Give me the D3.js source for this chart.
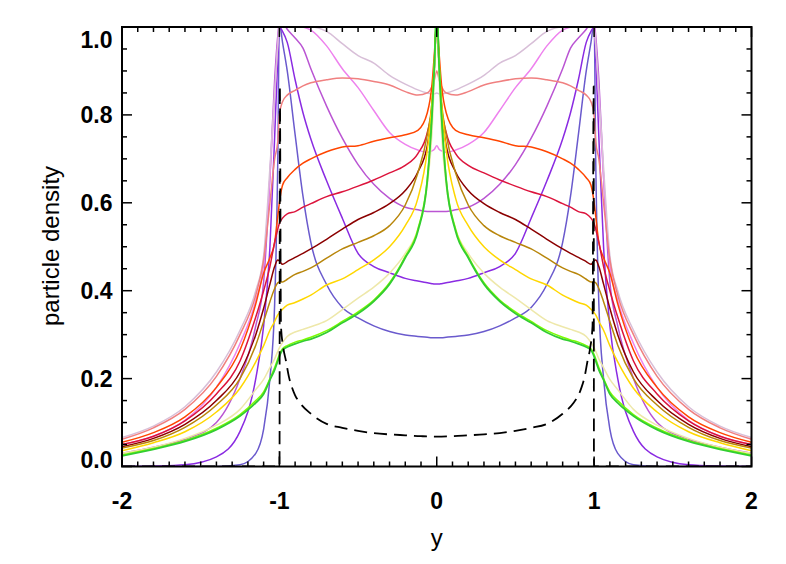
<!DOCTYPE html>
<html>
<head>
<meta charset="utf-8">
<script src="https://cdn.jsdelivr.net/npm/d3@7"></script>
<style>
  html, body { margin: 0; padding: 0; background: #fff; }
  svg { display: block; }
  text { font-family: "Liberation Sans", Arial, Helvetica, sans-serif; fill: #000; }
</style>
</head>
<body>
<svg id="chart" width="786" height="564"></svg>
<script>
// ---- data ----
const yPos = [-2,-1.8,-1.6,-1.4,-1.25,-1.15,-1.1,-1.06,-1.03,-1.01,-1.0,-0.98,-0.95,-0.9,-0.85,-0.8,-0.7,-0.6,-0.5,-0.4,-0.3,-0.2,-0.12,-0.06,-0.03,-0.015,0,
              0.015,0.03,0.06,0.12,0.2,0.3,0.4,0.5,0.6,0.7,0.8,0.85,0.9,0.95,0.98,1.0,1.01,1.03,1.06,1.1,1.15,1.25,1.4,1.6,1.8,2];

const slateBlue = [0,0,0,0,0.004,0.03,0.085,0.2,0.37,0.7,1.01,0.965,0.9,0.755,0.615,0.51,0.414,0.362,0.338,0.32,0.307,0.299,0.296,0.294,0.293,0.293,0.293,
                   0.293,0.293,0.294,0.296,0.299,0.307,0.32,0.338,0.362,0.414,0.51,0.615,0.755,0.9,0.965,1.01,0.7,0.37,0.2,0.085,0.03,0.004,0,0,0,0];
const blueViolet = [0,0.001,0.004,0.022,0.08,0.2,0.32,0.5,0.75,0.93,1.0,0.99,0.965,0.88,0.805,0.745,0.65,0.565,0.485,0.455,0.441,0.428,0.422,0.418,0.416,0.415,0.415,
                    0.415,0.416,0.418,0.422,0.428,0.441,0.455,0.485,0.565,0.65,0.745,0.805,0.88,0.965,0.99,1.0,0.93,0.75,0.5,0.32,0.2,0.08,0.022,0.004,0.001,0];
const mediumOrchid = [0.03,0.044,0.062,0.1,0.2,0.32,0.42,0.66,0.88,0.98,1.01,1.01,0.995,0.975,0.952,0.905,0.82,0.747,0.687,0.642,0.61,0.59,0.584,0.58,0.58,0.58,0.58,
                      0.58,0.58,0.58,0.584,0.59,0.61,0.642,0.687,0.747,0.82,0.905,0.952,0.975,0.995,1.01,1.01,0.98,0.88,0.66,0.42,0.32,0.2,0.1,0.062,0.044,0.03];
const violet = [0.05,0.069,0.105,0.18,0.28,0.378,0.46,0.66,0.84,0.96,1.0,1.01,1.01,1.005,1.0,0.993,0.957,0.905,0.862,0.81,0.76,0.733,0.72,0.715,0.718,0.722,0.73,
                0.722,0.718,0.715,0.72,0.733,0.76,0.81,0.862,0.905,0.957,0.993,1.0,1.005,1.01,1.01,1.0,0.96,0.84,0.66,0.46,0.378,0.28,0.18,0.105,0.069,0.05];
const thistle = [0.066,0.092,0.136,0.215,0.31,0.40,0.48,0.68,0.85,0.96,1.0,1.005,1.0,1.005,1.0,1.0,0.99,0.962,0.935,0.918,0.89,0.87,0.857,0.85,0.848,0.848,0.85,
                 0.848,0.848,0.85,0.857,0.87,0.89,0.918,0.935,0.962,0.99,1.0,1.0,1.005,1.0,1.005,1.0,0.96,0.85,0.68,0.48,0.40,0.31,0.215,0.136,0.092,0.066];
const lightCoral = [0.062,0.088,0.13,0.205,0.30,0.39,0.47,0.6,0.7,0.74,0.80,0.83,0.845,0.856,0.866,0.873,0.88,0.884,0.882,0.876,0.868,0.853,0.845,0.85,0.865,0.88,0.9,
                    0.88,0.865,0.85,0.845,0.853,0.868,0.876,0.882,0.884,0.88,0.873,0.866,0.856,0.845,0.83,0.80,0.74,0.7,0.6,0.47,0.39,0.30,0.205,0.13,0.088,0.062];
const orangeRed = [0.055,0.077,0.113,0.18,0.265,0.37,0.44,0.475,0.51,0.57,0.6,0.64,0.657,0.676,0.69,0.7,0.716,0.727,0.73,0.74,0.748,0.755,0.765,0.805,0.87,0.94,1.02,
                   0.94,0.87,0.805,0.765,0.755,0.748,0.74,0.73,0.727,0.716,0.7,0.69,0.676,0.657,0.64,0.6,0.57,0.51,0.475,0.44,0.37,0.265,0.18,0.113,0.077,0.055];
const crimson = [0.05,0.069,0.104,0.165,0.24,0.34,0.4,0.455,0.51,0.54,0.553,0.565,0.575,0.58,0.59,0.598,0.614,0.625,0.638,0.652,0.668,0.685,0.712,0.76,0.82,0.91,1.02,
                 0.91,0.82,0.76,0.712,0.685,0.668,0.652,0.638,0.625,0.614,0.598,0.59,0.58,0.575,0.565,0.553,0.54,0.51,0.455,0.4,0.34,0.24,0.165,0.104,0.069,0.05];
const darkRed = [0.045,0.064,0.096,0.15,0.215,0.3,0.36,0.415,0.455,0.47,0.468,0.46,0.466,0.476,0.485,0.495,0.517,0.54,0.562,0.578,0.598,0.628,0.67,0.73,0.82,0.91,1.02,
                 0.91,0.82,0.73,0.67,0.628,0.598,0.578,0.562,0.54,0.517,0.495,0.485,0.476,0.466,0.46,0.468,0.47,0.455,0.415,0.36,0.3,0.215,0.15,0.096,0.064,0.045];
const darkGoldenrod = [0.042,0.059,0.089,0.14,0.2,0.276,0.33,0.375,0.405,0.418,0.42,0.42,0.426,0.437,0.444,0.452,0.474,0.495,0.51,0.525,0.548,0.595,0.668,0.755,0.83,0.91,1.02,
                       0.91,0.83,0.755,0.668,0.595,0.548,0.525,0.51,0.495,0.474,0.452,0.444,0.437,0.426,0.42,0.42,0.418,0.405,0.375,0.33,0.276,0.2,0.14,0.089,0.059,0.042];
const gold = [0.036,0.054,0.079,0.124,0.178,0.238,0.275,0.31,0.33,0.345,0.35,0.358,0.367,0.373,0.381,0.39,0.413,0.427,0.448,0.47,0.5,0.548,0.61,0.72,0.83,0.92,1.02,
              0.92,0.83,0.72,0.61,0.548,0.5,0.47,0.448,0.427,0.413,0.39,0.381,0.373,0.367,0.358,0.35,0.345,0.33,0.31,0.275,0.238,0.178,0.124,0.079,0.054,0.036];
const paleGoldenrod = [0.03,0.044,0.064,0.094,0.13,0.175,0.198,0.225,0.245,0.262,0.27,0.282,0.296,0.306,0.312,0.318,0.332,0.357,0.383,0.408,0.44,0.485,0.54,0.64,0.76,0.88,1.02,
                       0.88,0.76,0.64,0.54,0.485,0.44,0.408,0.383,0.357,0.332,0.318,0.312,0.306,0.296,0.282,0.27,0.262,0.245,0.225,0.198,0.175,0.13,0.094,0.064,0.044,0.03];
const lawnGreen = [0.026,0.041,0.059,0.087,0.118,0.15,0.17,0.2,0.225,0.245,0.255,0.268,0.275,0.283,0.288,0.294,0.309,0.33,0.352,0.379,0.418,0.478,0.54,0.655,0.805,0.915,1.05,
                   0.915,0.805,0.655,0.54,0.478,0.418,0.379,0.352,0.33,0.309,0.294,0.288,0.283,0.275,0.268,0.255,0.245,0.225,0.2,0.17,0.15,0.118,0.087,0.059,0.041,0.026];
const limeGreen = [0.024,0.039,0.057,0.084,0.115,0.145,0.165,0.197,0.22,0.24,0.25,0.265,0.272,0.279,0.285,0.29,0.305,0.327,0.348,0.376,0.415,0.475,0.535,0.65,0.8,0.91,1.05,
                   0.91,0.8,0.65,0.535,0.475,0.415,0.376,0.348,0.327,0.305,0.29,0.285,0.279,0.272,0.265,0.25,0.24,0.22,0.197,0.165,0.145,0.115,0.084,0.057,0.039,0.024];

// dashed reference curve
const dashPos = [-2,-1.0,-0.999,-0.997,-0.99,-0.975,-0.958,-0.94,-0.92,-0.9,-0.87,-0.8,-0.7,-0.6,-0.5,-0.4,-0.3,-0.2,-0.1,0,
                 0.1,0.2,0.3,0.4,0.5,0.6,0.7,0.8,0.87,0.9,0.92,0.94,0.958,0.975,0.99,0.997,0.999,1.0,2];
const dashVal = [0,0,0,0.865,0.32,0.27,0.24,0.205,0.18,0.162,0.145,0.12,0.097,0.088,0.081,0.076,0.073,0.071,0.069,0.068,
                 0.069,0.071,0.073,0.076,0.081,0.088,0.097,0.12,0.145,0.162,0.18,0.205,0.24,0.27,0.32,0.865,0,0,0];

const xTickVals = [-2,-1,0,1,2];
const xTickLabels = ["-2","-1","0","1","2"];
const yTickVals = [0,0.2,0.4,0.6,0.8,1.0];
const yTickLabels = ["0.0","0.2","0.4","0.6","0.8","1.0"];

const seriesList = [
  {name:"slateBlue", values: slateBlue, color:"#6a5acd"},
  {name:"blueViolet", values: blueViolet, color:"#8a2be2"},
  {name:"mediumOrchid", values: mediumOrchid, color:"#ba55d3"},
  {name:"violet", values: violet, color:"#ee82ee"},
  {name:"thistle", values: thistle, color:"#d8bfd8"},
  {name:"lightCoral", values: lightCoral, color:"#f08080"},
  {name:"orangeRed", values: orangeRed, color:"#ff4500"},
  {name:"crimson", values: crimson, color:"#dc143c"},
  {name:"darkRed", values: darkRed, color:"#8b0000"},
  {name:"darkGoldenrod", values: darkGoldenrod, color:"#b8860b"},
  {name:"gold", values: gold, color:"#ffd700"},
  {name:"paleGoldenrod", values: paleGoldenrod, color:"#eee8aa"},
  {name:"lawnGreen", values: lawnGreen, color:"#7cfc00"},
  {name:"limeGreen", values: limeGreen, color:"#32cd32"}
];

// ---- layout ----
const L = 122, R = 751.5, T = 27, B = 466.5;
const svg = d3.select("#chart");
const x = d3.scaleLinear().domain([-2, 2]).range([L, R]);
const y = d3.scaleLinear().domain([0, 1]).range([B, T]);

svg.append("defs").append("clipPath").attr("id","plotclip")
  .append("rect").attr("x", L).attr("y", T).attr("width", R - L).attr("height", B - T);

const plot = svg.append("g").attr("clip-path","url(#plotclip)");
const line = d3.line().x(d => x(d[0])).y(d => y(d[1])).curve(d3.curveMonotoneX);

seriesList.forEach(s => {
  plot.append("path")
    .datum(yPos.map((p, i) => [p, s.values[i]]))
    .attr("fill","none").attr("stroke", s.color)
    .attr("stroke-width", s.name === "limeGreen" ? 1.8 : 1.5)
    .attr("stroke-linejoin","round")
    .attr("d", line);
});

plot.append("path")
  .datum(dashPos.map((p, i) => [p, dashVal[i]]))
  .attr("fill","none").attr("stroke","#000").attr("stroke-width",1.8)
  .attr("stroke-dasharray","13,7")
  .attr("d", d3.line().x(d => x(d[0])).y(d => y(d[1])).curve(d3.curveMonotoneX));

// ---- axes (inward ticks, mirrored on all four sides) ----
const axesG = svg.append("g");
const xMinor = d3.range(-20, 21).map(v => v / 10);
const yMinor = d3.range(0, 21).map(v => v / 20);
const major = 10, minor = 5;

xMinor.forEach(v => {
  const isMajor = Math.abs(v - Math.round(v)) < 1e-9;
  const len = isMajor ? major : minor;
  axesG.append("line").attr("x1", x(v)).attr("x2", x(v)).attr("y1", B).attr("y2", B - len)
    .attr("stroke","#000").attr("stroke-width",1.5);
  axesG.append("line").attr("x1", x(v)).attr("x2", x(v)).attr("y1", T).attr("y2", T + len)
    .attr("stroke","#000").attr("stroke-width",1.5);
});
yMinor.forEach(v => {
  const isMajor = Math.abs(v * 5 - Math.round(v * 5)) < 1e-9;
  const len = isMajor ? major : minor;
  axesG.append("line").attr("x1", L).attr("x2", L + len).attr("y1", y(v)).attr("y2", y(v))
    .attr("stroke","#000").attr("stroke-width",1.5);
  axesG.append("line").attr("x1", R).attr("x2", R - len).attr("y1", y(v)).attr("y2", y(v))
    .attr("stroke","#000").attr("stroke-width",1.5);
});

axesG.append("rect").attr("x", L).attr("y", T).attr("width", R - L).attr("height", B - T)
  .attr("fill","none").attr("stroke","#000").attr("stroke-width",2);

// tick labels
xTickVals.forEach((v, i) => {
  svg.append("text").attr("x", x(v)).attr("y", 508.5)
    .attr("text-anchor","middle").attr("font-size", 23).attr("font-weight","bold")
    .text(xTickLabels[i]);
});
yTickVals.forEach((v, i) => {
  let cy = y(v);
  if (v === 0) cy = 460;
  if (v === 1) cy = 39.5;
  svg.append("text").attr("x", 112.5).attr("y", cy + 8.2)
    .attr("text-anchor","end").attr("font-size", 23).attr("font-weight","bold")
    .text(yTickLabels[i]);
});

// axis titles
svg.append("text").attr("x", x(0)).attr("y", 546).attr("text-anchor","middle")
  .attr("font-size", 24).text("y");
svg.append("text").attr("transform","translate(59,246) rotate(-90)")
  .attr("text-anchor","middle").attr("font-size", 24).text("particle density");
</script>
</body>
</html>
